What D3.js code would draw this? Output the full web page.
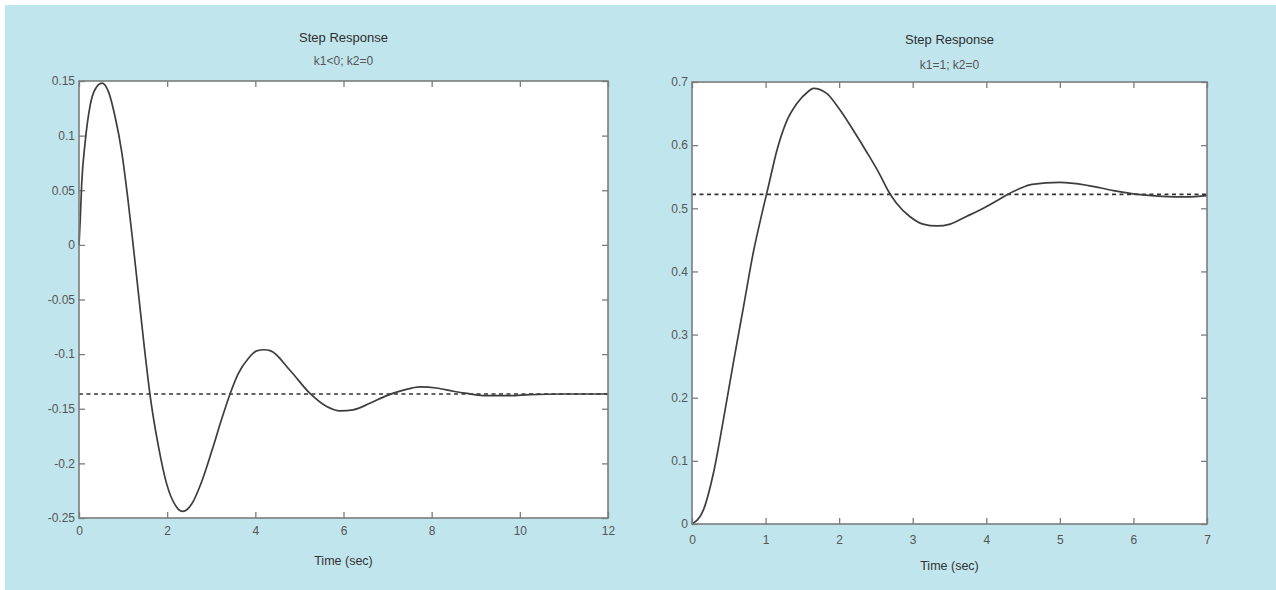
<!DOCTYPE html>
<html>
<head>
<meta charset="utf-8">
<script src="https://cdn.jsdelivr.net/npm/d3@7"></script>
<style>
  html, body { margin: 0; padding: 0; background: #ffffff; }
  svg { display: block; }
  text { font-family: "Liberation Sans", Arial, Helvetica, sans-serif; }
</style>
</head>
<body>
<svg id="chart" width="1276" height="590"></svg>
<script>
// ---------- data ----------
const leftTitle = "Step Response";
const leftSubtitle = "k1<0; k2=0";
const rightTitle = "Step Response";
const rightSubtitle = "k1=1; k2=0";
const xLabel = "Time (sec)";

const leftTime = [0, 0.03, 0.06, 0.14, 0.25, 0.36, 0.52, 0.67, 0.82, 0.97, 1.10, 1.22, 1.35, 1.48, 1.61,
  1.80, 1.99, 2.18, 2.35, 2.56, 2.78, 3.01, 3.24, 3.43, 3.61, 3.84, 4.03, 4.20, 4.35, 4.79, 5.24,
  5.62, 5.92, 6.22, 6.60, 6.98, 7.36, 7.74, 8.11, 8.49, 8.80, 9.25, 9.78, 10.23, 11.00, 12.00];
const leftResp = [0, 0.025, 0.055, 0.094, 0.127, 0.142, 0.148, 0.140, 0.117, 0.085, 0.045, 0.003, -0.045, -0.093, -0.137,
  -0.184, -0.219, -0.238, -0.244, -0.237, -0.217, -0.189, -0.159, -0.136, -0.118, -0.104, -0.097, -0.096, -0.097, -0.115, -0.136,
  -0.148, -0.152, -0.151, -0.145, -0.138, -0.133, -0.130, -0.131, -0.134, -0.136, -0.138, -0.138, -0.137, -0.1365, -0.1365];
const leftSteady = -0.1365;
const leftXTicks = [0, 2, 4, 6, 8, 10, 12];
const leftXTickLabels = ["0", "2", "4", "6", "8", "10", "12"];
const leftYTicks = [0.15, 0.1, 0.05, 0, -0.05, -0.1, -0.15, -0.2, -0.25];
const leftYTickLabels = ["0.15", "0.1", "0.05", "0", "-0.05", "-0.1", "-0.15", "-0.2", "-0.25"];
const leftXDomain = [0, 12];
const leftYDomain = [-0.25, 0.15];

const rightTime = [0, 0.154, 0.29, 0.425, 0.56, 0.70, 0.833, 0.947, 1.037, 1.15, 1.287, 1.42, 1.58, 1.65, 1.83,
  2.01, 2.19, 2.37, 2.555, 2.67, 2.78, 2.96, 3.14, 3.33, 3.51, 3.73, 3.96, 4.19, 4.29, 4.45, 4.62, 5.00, 5.39, 5.73, 6.06, 6.39, 6.72, 7.00];
const rightResp = [0, 0.022, 0.080, 0.164, 0.254, 0.344, 0.430, 0.490, 0.534, 0.590, 0.638, 0.665, 0.685, 0.690, 0.682,
  0.656, 0.624, 0.590, 0.553, 0.527, 0.508, 0.487, 0.475, 0.472, 0.475, 0.487, 0.500, 0.515, 0.522, 0.531, 0.538, 0.541, 0.536, 0.528, 0.522, 0.519, 0.518, 0.520];
const rightSteady = 0.522;
const rightXTicks = [0, 1, 2, 3, 4, 5, 6, 7];
const rightXTickLabels = ["0", "1", "2", "3", "4", "5", "6", "7"];
const rightYTicks = [0.7, 0.6, 0.5, 0.4, 0.3, 0.2, 0.1, 0];
const rightYTickLabels = ["0.7", "0.6", "0.5", "0.4", "0.3", "0.2", "0.1", "0"];
const rightXDomain = [0, 7];
const rightYDomain = [0, 0.7];

// ---------- drawing ----------
const svg = d3.select("#chart");
svg.append("rect").attr("x", 5).attr("y", 5).attr("width", 1271).attr("height", 585).attr("fill", "#c1e5ec");

function panel(cfg) {
  const x = d3.scaleLinear().domain(cfg.xDomain).range([cfg.left, cfg.right]);
  const y = d3.scaleLinear().domain(cfg.yDomain).range([cfg.bottom, cfg.top]);
  const g = svg.append("g");

  g.append("rect")
    .attr("x", cfg.left).attr("y", cfg.top)
    .attr("width", cfg.right - cfg.left).attr("height", cfg.bottom - cfg.top)
    .attr("fill", "#ffffff");

  const tickLen = 6;
  const styleAxis = sel => {
    sel.select(".domain").remove();
    sel.selectAll(".tick line").attr("stroke", "#7c7c7c").attr("stroke-width", 1.3);
    sel.selectAll(".tick text").attr("fill", "#555").attr("font-size", 12);
  };

  const xLab = d => cfg.xTickLabels[cfg.xTicks.indexOf(d)];
  const yLab = d => cfg.yTickLabels[cfg.yTicks.indexOf(d)];

  g.append("g").attr("transform", `translate(0,${cfg.bottom})`)
    .call(d3.axisBottom(x).tickValues(cfg.xTicks).tickFormat(xLab).tickSizeInner(-tickLen).tickSizeOuter(0).tickPadding(cfg.xPad))
    .call(styleAxis);
  g.append("g").attr("transform", `translate(0,${cfg.top})`)
    .call(d3.axisTop(x).tickValues(cfg.xTicks).tickFormat("").tickSizeInner(-tickLen).tickSizeOuter(0))
    .call(styleAxis);
  g.append("g").attr("transform", `translate(${cfg.left},0)`)
    .call(d3.axisLeft(y).tickValues(cfg.yTicks).tickFormat(yLab).tickSizeInner(-tickLen).tickSizeOuter(0).tickPadding(4))
    .call(styleAxis);
  g.append("g").attr("transform", `translate(${cfg.right},0)`)
    .call(d3.axisRight(y).tickValues(cfg.yTicks).tickFormat("").tickSizeInner(-tickLen).tickSizeOuter(0))
    .call(styleAxis);

  // dotted steady-state line
  g.append("line")
    .attr("x1", x(cfg.xDomain[0])).attr("x2", x(cfg.xDomain[1]))
    .attr("y1", y(cfg.steady)).attr("y2", y(cfg.steady))
    .attr("stroke", "#333").attr("stroke-width", 1.6).attr("stroke-dasharray", "4,3.5");

  const pts = cfg.t.map((t, i) => [t, cfg.v[i]]);
  g.append("path")
    .datum(pts)
    .attr("fill", "none").attr("stroke", "#3d3d3d").attr("stroke-width", 1.7)
    .attr("d", d3.line().x(d => x(d[0])).y(d => y(d[1])).curve(d3.curveMonotoneX));

  // frame
  g.append("rect")
    .attr("x", cfg.left).attr("y", cfg.top)
    .attr("width", cfg.right - cfg.left).attr("height", cfg.bottom - cfg.top)
    .attr("fill", "none").attr("stroke", "#7c7c7c").attr("stroke-width", 1.6);

  const cx = (cfg.left + cfg.right) / 2;
  g.append("text").attr("x", cx).attr("y", cfg.titleY).attr("text-anchor", "middle")
    .attr("font-size", 13).attr("fill", "#2e2e2e").text(cfg.title);
  g.append("text").attr("x", cx).attr("y", cfg.subY).attr("text-anchor", "middle")
    .attr("font-size", 12).attr("fill", "#555").text(cfg.subtitle);
  g.append("text").attr("x", cx).attr("y", cfg.xLabelY).attr("text-anchor", "middle")
    .attr("font-size", 12.5).attr("fill", "#333").text(xLabel);
}

panel({
  left: 79, right: 608, top: 81, bottom: 518,
  xDomain: leftXDomain, yDomain: leftYDomain,
  xTicks: leftXTicks, xTickLabels: leftXTickLabels,
  yTicks: leftYTicks, yTickLabels: leftYTickLabels,
  t: leftTime, v: leftResp, steady: leftSteady,
  title: leftTitle, subtitle: leftSubtitle,
  titleY: 41.5, subY: 65, xLabelY: 564.5, xPad: 8
});

panel({
  left: 692, right: 1207, top: 82, bottom: 524,
  xDomain: rightXDomain, yDomain: rightYDomain,
  xTicks: rightXTicks, xTickLabels: rightXTickLabels,
  yTicks: rightYTicks, yTickLabels: rightYTickLabels,
  t: rightTime, v: rightResp, steady: rightSteady,
  title: rightTitle, subtitle: rightSubtitle,
  titleY: 44, subY: 68.5, xLabelY: 569.5, xPad: 11
});
</script>
</body>
</html>
